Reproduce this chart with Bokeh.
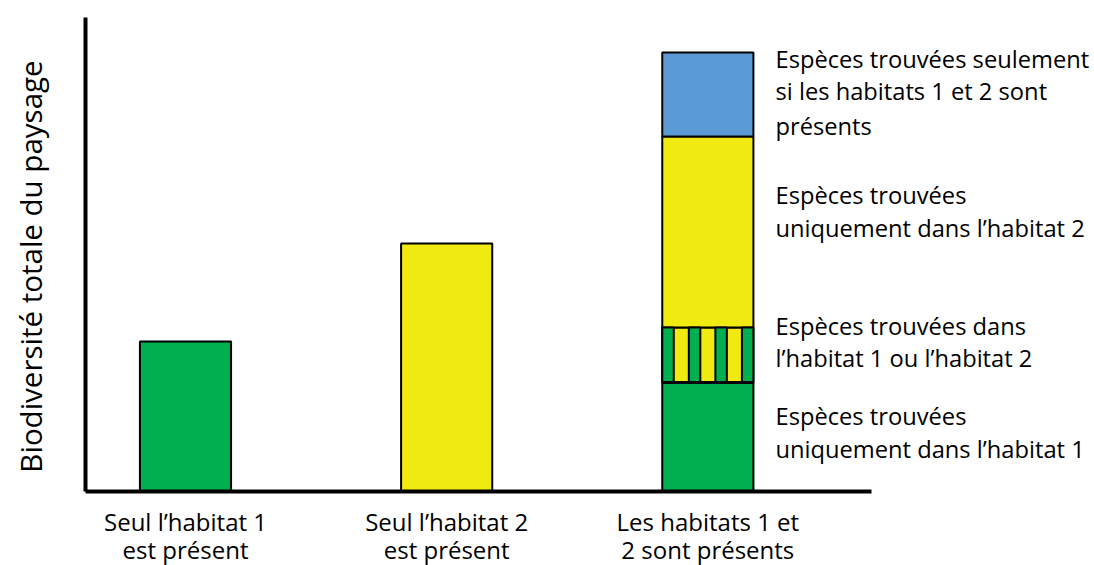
import numpy as np
from bokeh.plotting import figure
from bokeh.models import Range1d, FixedTicker
from bokeh.core.properties import value
from bokeh.embed import file_html
from bokeh.resources import INLINE

# ---- data ----
categories = ["Seul l’habitat 1\nest présent",
              "Seul l’habitat 2\nest présent",
              "Les habitats 1 et\n2 sont présents"]
single_values = [150, 248]               # bars 1 and 2
single_colors = ["#00B050", "#F0EA10"]
stack_names = ["unique1", "shared", "unique2", "both"]
stack_values = [109, 55, 191, 84]        # bar 3, bottom to top
stack_colors = ["#00B050", "#F0EA10", "#F0EA10", "#5B9BD5"]
n_stripes = 4
notes = [
    ["Espèces trouvées seulement", "si les habitats 1 et 2 sont", "présents"],
    ["Espèces trouvées", "uniquement dans l’habitat 2"],
    ["Espèces trouvées dans", "l’habitat 1 ou l’habitat 2"],
    ["Espèces trouvées", "uniquement dans l’habitat 1"],
]
y_title = "Biodiversité totale du paysage"
y_max = 474

# ---- layout constants ----
FONT = "Open Sans"
W, H = 1094, 565
UNIT_PX = 261.17          # pixels per category step
X0_PX, BASE_PX = 185, 491  # pixel of first category centre and of the baseline
BAR_W = 0.349
STRIPE_W = 0.044
note_y = [[433, 401, 366], [297, 264], [166, 134], [76, 43]]
NOTE_X = 2.259
X_AXIS_START, X_AXIS_END = -0.383, 2.625
XLAB_Y = [-30, -58]
YTITLE_X, YTITLE_Y = -0.5935, 225

x_start = -X0_PX / UNIT_PX
x_end = (W - X0_PX) / UNIT_PX
p = figure(width=W, height=H, output_backend="svg", toolbar_location=None,
           x_range=Range1d(x_start, x_end), y_range=Range1d(BASE_PX - H, BASE_PX),
           min_border=0)
p.outline_line_color = None
p.xgrid.visible = False
p.ygrid.visible = False
p.background_fill_color = "white"
p.border_fill_color = "white"

xs = list(range(len(categories)))

# bars 1 and 2
p.vbar(x=xs[:2], top=single_values, width=BAR_W, bottom=0,
       fill_color=single_colors, line_color="black", line_width=2)

# stacked bar 3
cum = np.concatenate([[0], np.cumsum(stack_values)])
p.vbar(x=[xs[2]] * len(stack_values), bottom=cum[:-1], top=cum[1:], width=BAR_W,
       fill_color=stack_colors, line_color="black", line_width=2)

# stripes in the shared segment
left = xs[2] - BAR_W / 2 + STRIPE_W / 2
right = xs[2] + BAR_W / 2 - STRIPE_W / 2
sx = np.linspace(left, right, n_stripes)
p.vbar(x=sx, bottom=cum[1], top=cum[2], width=STRIPE_W,
       fill_color=stack_colors[0], line_color="black", line_width=2)
p.segment(x0=[xs[2] - BAR_W / 2], x1=[xs[2] + BAR_W / 2], y0=[cum[1]], y1=[cum[1]],
          line_color="black", line_width=3)

# axes (drawn at fixed locations inside the frame)
for ax in (p.xaxis[0], p.yaxis[0]):
    ax.ticker = FixedTicker(ticks=[])
    ax.major_tick_line_color = None
    ax.minor_tick_line_color = None
    ax.major_label_text_font_size = "0px"
    ax.axis_line_width = 4
    ax.axis_line_color = "black"
p.xaxis[0].fixed_location = 0
p.xaxis[0].bounds = (X_AXIS_START, X_AXIS_END)
p.yaxis[0].fixed_location = X_AXIS_START
p.yaxis[0].bounds = (0, y_max)

# category labels (two lines each)
lab_x, lab_y, lab_t = [], [], []
for i, c in zip(xs, categories):
    for line, yy in zip(c.split("\n"), XLAB_Y):
        lab_x.append(i); lab_y.append(yy); lab_t.append(line)
p.text(x=lab_x, y=lab_y, text=lab_t, text_font=value(FONT), text_font_size=value("24px"),
       text_align="center", text_baseline="middle", text_color="#000000")

# y title
p.text(x=[YTITLE_X], y=[YTITLE_Y], text=[y_title], angle=np.pi / 2,
       text_font=value(FONT), text_font_size=value("29.5px"),
       text_align="center", text_baseline="middle", text_color="#000000")

# notes
n_x, n_y, n_t = [], [], []
for lines, ys in zip(notes, note_y):
    for t, yy in zip(lines, ys):
        n_x.append(NOTE_X); n_y.append(yy); n_t.append(t)
p.text(x=n_x, y=n_y, text=n_t, text_font=value(FONT), text_font_size=value("23.7px"),
       text_align="left", text_baseline="middle", text_color="#000000")

open("out.html", "w").write(file_html(p, INLINE))
